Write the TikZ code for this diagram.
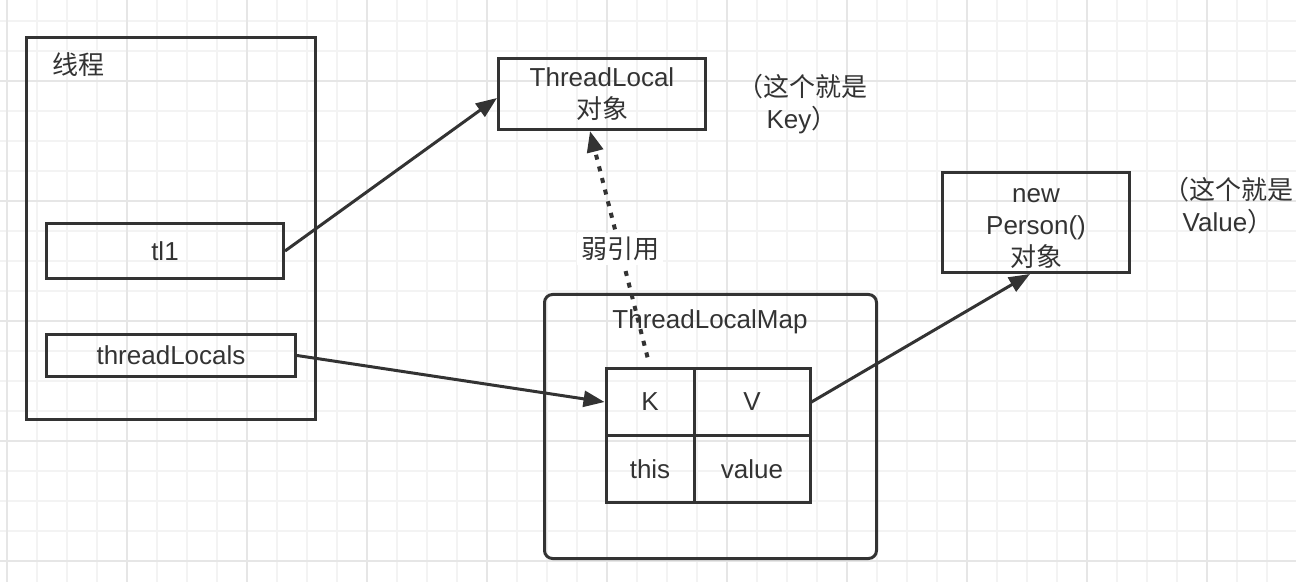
\documentclass[tikz,border=0pt]{standalone}
\usepackage{fontspec}
\setmainfont{Liberation Sans}
\newfontfamily\cjk{Noto Sans CJK SC}
\usetikzlibrary{arrows.meta}
\definecolor{ink}{HTML}{333333}
\definecolor{gridminor}{HTML}{F3F3F3}
\definecolor{gridmajor}{HTML}{E6E6E6}

\begin{document}
\begin{tikzpicture}[x=0.5pt, y=-0.5pt,
	font=\fontsize{13}{16}\selectfont,
	box/.style={draw=ink, line width=1.5pt, inner sep=0pt, text=ink, align=center},
	cell/.style={box, minimum height=33.5pt},
	note/.style={text=ink, align=center, inner sep=1pt},
	link/.style={color=ink, line width=1.5pt, -{Triangle[length=10.5pt,width=8pt]}}]
	
	\useasboundingbox (0,0) rectangle (1296,582);
	
	% grid
	\foreach \gx in {7,37,...,1297} \draw[gridminor, line width=0.8pt] (\gx,0) -- (\gx,582);
	\foreach \gy in {21,51,...,561} \draw[gridminor, line width=0.8pt] (0,\gy) -- (1296,\gy);
	\foreach \gx in {7,127,...,1297} \draw[gridmajor, line width=0.8pt] (\gx,0) -- (\gx,582);
	\foreach \gy in {81,201,...,561} \draw[gridmajor, line width=0.8pt] (0,\gy) -- (1296,\gy);
	
	\node[box, minimum width=144.5pt, minimum height=191pt] (thread) at (171, 228.5) {};
	\node[note, anchor=west] (title) at (50, 65) {\cjk 线程};
	\node[box, minimum width=118.5pt, minimum height=27.5pt] (tl1) at (165, 251) {tl1};
	\node[box, minimum width=124.5pt, minimum height=21pt] (tlocals) at (171, 355.5) {threadLocals};
	
	\node[box, minimum width=103.5pt, minimum height=35.5pt] (tlobj) at (602, 94) {ThreadLocal\\{\cjk 对象}};
	\node[note] (keynote) at (802, 104) {{\cjk （这个就是}\\Key{\cjk ）}};
	
	\node[box, minimum width=93.5pt, minimum height=50pt] (person) at (1036, 222.5) {};
	\node[note] (personlabel) at (1036, 228.5) {new\\Person()\\{\cjk 对象}};
	\node[note] (valnote) at (1228, 206) {{\cjk （这个就是}\\Value{\cjk ）}};
	
	\node[box, rounded corners=4pt, minimum width=166pt, minimum height=132pt] (map) at (710.5, 426.5) {};
	\node[note] (maplabel) at (710, 322) {ThreadLocalMap};
	\node[cell, minimum width=44pt] (k) at (650, 402) {K};
	\node[cell, minimum width=58pt] (v) at (752, 402) {V};
	\node[cell, minimum width=44pt] (this) at (650, 469) {this};
	\node[cell, minimum width=58pt] (val) at (752, 469) {value};
	
	\path[link] (tl1.east) edge ([yshift=-2pt]tlobj.west);
	\path[link] (tlocals.east) edge (k.west);
	\path[link] (v.east) edge ([xshift=-3pt]person.south);
	\path[link, line width=2pt, dash pattern=on 2.5pt off 3.5pt, shorten <=5pt] (k.north) edge node[note, fill=white, inner sep=2pt] {\cjk 弱引用} ([xshift=-6pt]tlobj.south);
	
\end{tikzpicture}
\end{document}
